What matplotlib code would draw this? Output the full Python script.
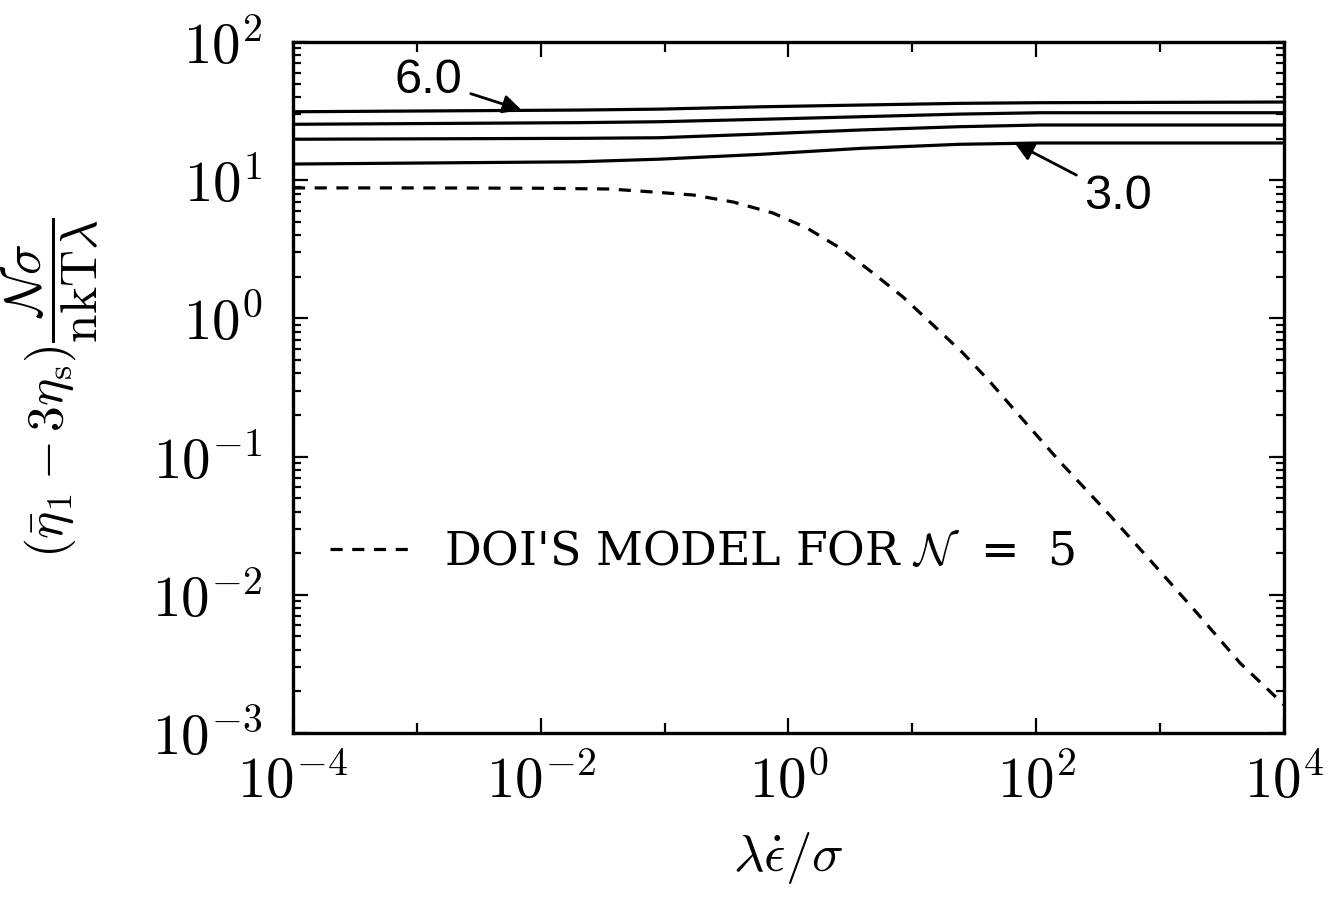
import math
import matplotlib
matplotlib.use("Agg")
import matplotlib.pyplot as plt
from matplotlib.ticker import FixedLocator, FuncFormatter, LogLocator, NullFormatter

plt.rcParams["mathtext.fontset"] = "cm"
plt.rcParams["font.family"] = ["DejaVu Serif"]

# Reduced strain rate (lambda * eps_dot / sigma)
rate = [1e-4, 0.02, 0.09, 0.6, 3.8, 24, 107, 1e4]

# Normalised extensional viscosity curves (top to bottom)
visc_60 = [31.3, 32.2, 32.7, 34.0, 35.0, 36.0, 36.4, 36.8]
visc_50 = [25.4, 26.1, 26.5, 27.6, 28.8, 30.1, 30.8, 30.8]
visc_40 = [19.8, 20.1, 20.3, 21.6, 23.1, 24.4, 25.1, 25.1]
visc_30 = [13.1, 13.6, 14.2, 15.4, 17.0, 18.2, 18.6, 18.6]

# Doi's model, N = 5
rate_doi = [1e-4, 1e-3, 1e-2, 0.036, 0.081, 0.17, 0.36, 0.75, 1.41, 2.61,
            4.81, 8.39, 14.7, 25.6, 42.4, 70.0, 156, 372, 828, 1986, 4416, 1e4]
visc_doi = [8.8, 8.8, 8.75, 8.64, 8.22, 7.82, 6.95, 5.79, 4.51, 3.23,
            2.13, 1.43, 0.896, 0.562, 0.347, 0.207, 0.0914, 0.0397, 0.01786,
            0.00738, 0.00321, 0.0016]

x_major = [1e-4, 1e-2, 1e0, 1e2, 1e4]
x_minor = [1e-3, 1e-1, 1e1, 1e3]

fig = plt.figure(figsize=(13.42, 9.08), dpi=100)
ax = fig.add_axes([0.2183, 0.1927, 0.9568 - 0.2183, 0.9537 - 0.1927])

for series in (visc_60, visc_50, visc_40, visc_30):
    ax.plot(rate, series, color="black", lw=2.3, solid_capstyle="butt")

ax.plot(rate_doi, visc_doi, color="black", lw=2.3, dashes=(3.8, 3.0),
        label=r"DOI'S MODEL FOR $\mathcal{N}$  =  5")

ax.set_xscale("log")
ax.set_yscale("log")
ax.set_xlim(1e-4, 1e4)
ax.set_ylim(1e-3, 1e2)

fmt = FuncFormatter(lambda v, p: r"$10^{%d}$" % round(math.log10(v)))
ax.xaxis.set_major_locator(FixedLocator(x_major))
ax.xaxis.set_minor_locator(FixedLocator(x_minor))
ax.xaxis.set_major_formatter(fmt)
ax.xaxis.set_minor_formatter(NullFormatter())
ax.yaxis.set_major_locator(LogLocator(base=10, numticks=20))
ax.yaxis.set_minor_locator(LogLocator(base=10, subs=range(2, 10), numticks=20))
ax.yaxis.set_major_formatter(fmt)
ax.yaxis.set_minor_formatter(NullFormatter())

ax.tick_params(which="both", direction="in", top=True, right=True, width=1.6,
               labelsize=41, color="black")
ax.tick_params(axis="x", which="major", length=11, pad=15)
ax.tick_params(axis="x", which="minor", length=7)
ax.tick_params(axis="y", which="major", length=11, pad=22)
ax.tick_params(axis="y", which="minor", length=6)
for sp in ax.spines.values():
    sp.set_linewidth(2.4)

ax.set_xlabel(r"$\lambda\dot{\epsilon}/\sigma$", fontsize=38)
ax.xaxis.set_label_coords(0.5, -0.14)
ax.set_ylabel(r"$(\bar{\eta}_1-3\eta_{\rm s})\dfrac{\mathcal{N}\sigma}{{\rm nkT}\lambda}$",
              fontsize=37)
ax.yaxis.set_label_coords(-0.195, 0.5)

arrow = dict(arrowstyle="-|>", color="black", lw=2.0, mutation_scale=28,
             shrinkA=4, shrinkB=0)
ax.annotate("6.0", xy=(7.0e-3, visc_60[1]), xytext=(1.25e-3, 53),
            ha="center", va="center", fontsize=35, family="Liberation Sans",
            arrowprops=arrow)
ax.annotate("3.0", xy=(67, visc_30[-1]), xytext=(457, 7.6),
            ha="center", va="center", fontsize=35, family="Liberation Sans",
            arrowprops=arrow)

leg = ax.legend(loc="center left", bbox_to_anchor=(0.037, 0.262), frameon=False,
                borderaxespad=0, borderpad=0, handlelength=1.8, handletextpad=0.7,
                prop={"family": "DejaVu Serif", "size": 33})

fig.savefig("out.png", dpi=100)
